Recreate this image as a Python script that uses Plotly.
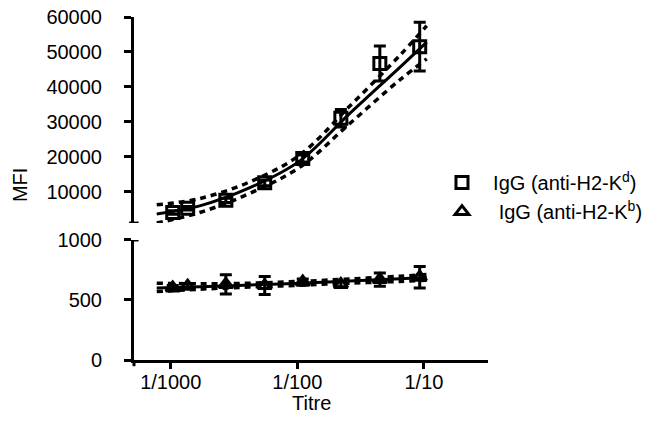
import plotly.graph_objects as go

# ---- data ----
titre = [1/964, 1/735, 1/367, 1/181, 1/90.6, 1/45.3, 1/22.3, 1/10.8]

kd_mfi = [4000, 5200, 7500, 12500, 19500, 31000, 46700, 51500]
kd_err = [500, 500, 600, 800, 1000, 2500, 5000, 7000]

kb_mfi = [600, 615, 630, 620, 650, 630, 670, 690]
kb_err = [20, 20, 80, 75, 25, 20, 55, 90]

fit_titre = [1/1290, 1/590, 1/237, 1/95.5, 1/38.5, 1/15.5, 1/9.5]
kd_fit = [3600, 5900, 11100, 18800, 32400, 45600, 52800]
kd_fit_hi = [6200, 8000, 12800, 20500, 34500, 49000, 57500]
kd_fit_lo = [1000, 4000, 9500, 17000, 29500, 42000, 48000]

kb_fit = [600, 610, 625, 640, 658, 677, 688]
kb_fit_hi = [640, 635, 640, 655, 675, 698, 712]
kb_fit_lo = [570, 590, 608, 623, 640, 655, 665]

tick_vals = [0.001, 0.01, 0.1]
tick_text = ["1/1000", "1/100", "1/10"]
upper_ticks = [10000, 20000, 30000, 40000, 50000, 60000]
lower_ticks = [0, 500, 1000]

FONT = "Liberation Sans, Arial, sans-serif"
FS = 20

fig = go.Figure()

def fit_traces(y, hi, lo, yaxis):
    for vals, dash in ((hi, "dash"), (lo, "dash"), (y, "solid")):
        fig.add_trace(go.Scatter(
            x=fit_titre, y=vals, mode="lines", yaxis=yaxis,
            line=dict(color="black", width=3 if dash == "solid" else 3.5,
                      dash="6px,5px" if dash == "dash" else "solid", shape="spline"),
            showlegend=False, hoverinfo="skip"))

fit_traces(kd_fit, kd_fit_hi, kd_fit_lo, "y2")
fit_traces(kb_fit, kb_fit_hi, kb_fit_lo, "y")

fig.add_trace(go.Scatter(
    x=titre, y=kd_mfi, mode="markers", yaxis="y2",
    name="&nbsp;&nbsp;IgG (anti-H2-K<sup>d</sup>)",
    marker=dict(symbol="square-open", size=12, color="black", line=dict(width=3, color="black")),
    error_y=dict(type="data", array=kd_err, color="black", thickness=3, width=6)))

fig.add_trace(go.Scatter(
    x=titre, y=kb_mfi, mode="markers", yaxis="y",
    name="&nbsp;&nbsp;&nbsp;IgG (anti-H2-K<sup>b</sup>)",
    marker=dict(symbol="triangle-up-open", size=12, color="black", line=dict(width=3, color="black")),
    error_y=dict(type="data", array=kb_err, color="black", thickness=3, width=6)))

axis_common = dict(showline=True, linecolor="black", linewidth=3, ticks="outside",
                   tickwidth=3, tickcolor="black", showgrid=False, zeroline=False,
                   automargin=False,
                   tickfont=dict(family=FONT, size=FS, color="black"))

fig.update_layout(
    width=650, height=424,
    margin=dict(l=134, r=162, t=17, b=64, autoexpand=False),
    plot_bgcolor="white", paper_bgcolor="white",
    font=dict(family=FONT, size=FS, color="black"),
    xaxis=dict(type="log", range=[-3.29, -0.494], tickvals=tick_vals, ticktext=tick_text,
               ticklen=6, anchor="y", ticklabelstandoff=-4, **axis_common),
    yaxis=dict(domain=[0, 0.3499], range=[0, 1000], tickvals=lower_ticks,
               ticktext=[str(v) for v in lower_ticks],
               ticklen=7, anchor="x", ticklabelstandoff=18, **axis_common),
    yaxis2=dict(domain=[0.3994, 1], range=[1000, 60000], tickvals=upper_ticks,
                ticktext=[str(v) for v in upper_ticks],
                ticklen=7, anchor="x", ticklabelstandoff=18, **axis_common),
    legend=dict(x=0.870, y=0.574, xanchor="left", yanchor="top",
                font=dict(family=FONT, size=FS, color="black"),
                bgcolor="rgba(0,0,0,0)", tracegroupgap=0, itemwidth=30),
    showlegend=True,
)

# axis-break stubs and y-axis extension below the x axis
fig.add_shape(type="line", xref="paper", yref="y2", x0=-0.014, x1=0.013, y0=1000, y1=1000,
              line=dict(color="black", width=3))
fig.add_shape(type="line", xref="paper", yref="y", x0=0, x1=0.013, y0=1000, y1=1000,
              line=dict(color="black", width=3))
fig.add_shape(type="line", xref="paper", yref="paper", x0=0, x1=0, y0=0, y1=-0.018,
              line=dict(color="black", width=3))

fig.add_annotation(text="MFI", xref="paper", yref="paper", x=-0.322, y=0.51,
                   xanchor="center", yanchor="middle",
                   textangle=-90, showarrow=False, font=dict(family=FONT, size=FS, color="black"))
fig.add_annotation(text="Titre", xref="paper", yref="paper", x=0.5, y=-0.125,
                   xanchor="center", yanchor="middle", showarrow=False,
                   font=dict(family=FONT, size=FS, color="black"))

fig.write_html("out.html")
